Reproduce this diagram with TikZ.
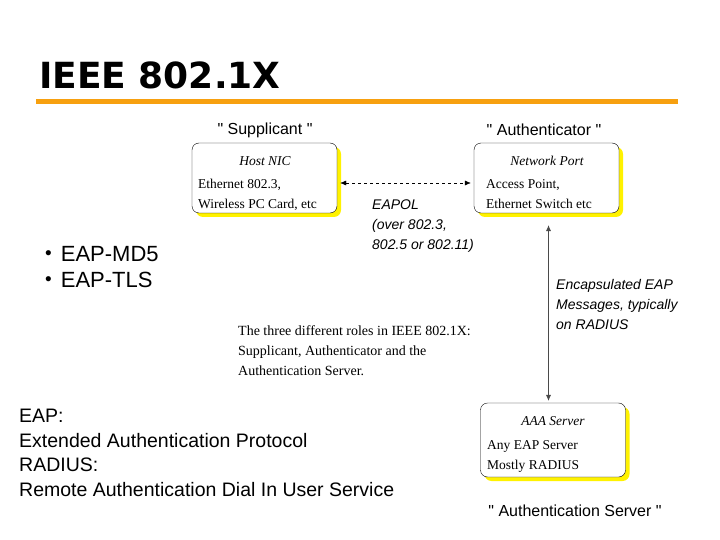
\documentclass[tikz,border=0pt]{standalone}
\usepackage{fontspec}
\setmainfont{Liberation Serif}
\setsansfont{Liberation Sans}
\newfontfamily\titlefont{DejaVu Sans}[BoldFont={DejaVu Sans Bold}]
\newfontfamily\rolefont{Liberation Sans}[Ligatures=TeXOff]
\usetikzlibrary{arrows.meta,shadows}
\definecolor{accent}{HTML}{F7A00F}
\definecolor{glow}{HTML}{FFF200}
\definecolor{wire}{HTML}{4A4A4A}
\newcommand\dotitem{\raisebox{1.5pt}{\fontsize{19}{19}\selectfont\textbullet}\hspace{9pt}}
\tikzset{fig/.style={line join=round,>={Latex[length=6pt,width=5pt]}},
  rolebox/.style={draw,rounded corners=7pt,minimum width=145pt,minimum height=70pt,inner sep=0pt,fill=white,
    drop shadow={shadow xshift=4pt,shadow yshift=-4pt,fill=glow,opacity=1}},
  role/.style={font=\rolefont\fontsize{16}{18}\selectfont,inner sep=0pt},
  hdr/.style={font=\itshape\fontsize{13.5}{15}\selectfont,inner sep=0pt},
  body/.style={font=\fontsize{13.5}{20}\selectfont,align=left,anchor=north west,inner sep=0pt},
  note/.style={font=\sffamily\itshape\fontsize{14}{20}\selectfont,align=left,anchor=north west,inner sep=0pt},
  plain/.style={font=\sffamily\fontsize{19.5}{24.5}\selectfont,align=left,anchor=north west,inner sep=0pt}}
\begin{document}
\begin{tikzpicture}[fig,x=1pt,y=-1pt]
  \useasboundingbox (0,0) rectangle (720,540);
  % title and rule
  \node[anchor=base west,inner sep=0pt,font=\titlefont\bfseries\fontsize{36}{40}\selectfont] (title) at (39,89) {IEEE 802.1X};
  \draw[accent,line width=5pt] (36,102) -- (678,102);
  % the three roles
  \node[rolebox] (sup) at (264.5,178) {};
  \node[rolebox] (auth) at (546.5,178) {};
  \node[rolebox,minimum height=74pt] (aaa) at (553,440) {};
  \node[role] (supname) at (265,130) {" Supplicant "};
  \node[role] (authname) at (544,130) {" Authenticator "};
  \node[role] (aaaname) at (575,511) {" Authentication Server "};
  \node[hdr] (suphdr) at (265,161) {Host NIC};
  \node[body] (supbody) at (198,179) {Ethernet 802.3,\\Wireless PC Card, etc};
  \node[hdr] (authhdr) at (547,161) {Network Port};
  \node[body] (authbody) at (486,179) {Access Point,\\Ethernet Switch etc};
  \node[hdr] (aaahdr) at (553,421) {AAA Server};
  \node[body] (aaabody) at (487,440) {Any EAP Server\\Mostly RADIUS};
  % links
  \draw[<->,dashed,shorten <=3pt,shorten >=3pt] ([yshift=-5pt]sup.east) -- ([yshift=-5pt]auth.west);
  \draw[<->,wire,shorten <=12pt,shorten >=2pt] ([xshift=2pt]auth.south) -- ([xshift=2pt]auth.south |- aaa.north);
  \node[note] (eapol) at (372,200) {EAPOL\\(over 802.3,\\802.5 or 802.11)};
  \node[note] (encap) at (556,279) {Encapsulated EAP\\Messages, typically\\on RADIUS};
  \node[body,font=\fontsize{14}{20}\selectfont] (roles) at (238,325.5) {The three different roles in IEEE 802.1X:\\Supplicant, Authenticator and the\\Authentication Server.};
  % left column
  \node[plain,font=\sffamily\fontsize{22}{26}\selectfont] (methods) at (45,246) {\dotitem EAP-MD5\\\dotitem EAP-TLS};
  \node[plain] (terms) at (19,409) {EAP:\\Extended Authentication Protocol\\RADIUS:\\Remote Authentication Dial In User Service};
\end{tikzpicture}
\end{document}
